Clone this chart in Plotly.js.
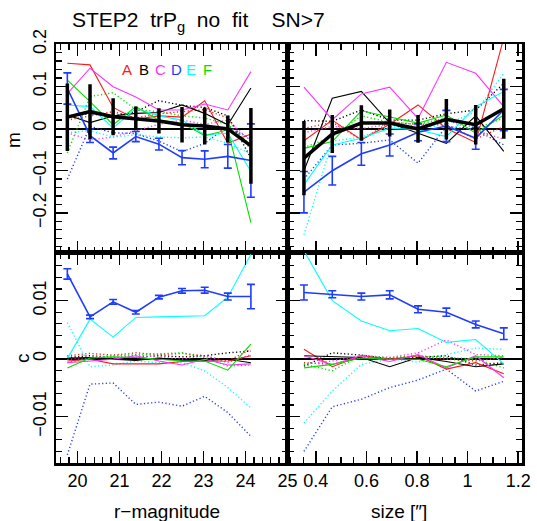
<!DOCTYPE html>
<html><head><meta charset="utf-8">
<script src="https://cdn.plot.ly/plotly-3.0.1.min.js"></script>
<style>html,body{margin:0;padding:0;background:#fff}#chart{width:537px;height:521px}</style>
</head><body><div id="chart"></div><script>
// ---------- bins ----------
const magBins  = [19.76, 20.30, 20.85, 21.39, 21.94, 22.49, 23.03, 23.58, 24.13];
const sizeBins = [0.353, 0.465, 0.580, 0.692, 0.804, 0.916, 1.032, 1.143];

// ---------- m vs r-magnitude ----------
const mMag_mean    = [0.027, 0.040, 0.028, 0.024, 0.018, 0.009, 0.006, -0.001, -0.041];
const mMag_meanErr = [0.080, 0.065, 0.044, 0.028, 0.030, 0.042, 0.044, 0.032, 0.090];
const mMag_A  = [0.155, 0.151, 0.050, 0.022, 0.030, 0.027, 0.066, -0.035, -0.013];
const mMag_B  = [0.032, 0.014, 0.030, 0.036, 0.038, 0.056, 0.036, 0.009, 0.096];
const mMag_C  = [0.083, 0.143, 0.099, 0.075, 0.044, 0.044, 0.058, 0.044, 0.135];
const mMag_D  = [0.095, -0.017, -0.058, -0.019, -0.037, -0.069, -0.073, -0.066, -0.076];
const mMag_DErr = [0.037, 0.016, 0.014, 0.012, 0.014, 0.017, 0.020, 0.028, 0.087];
const mMag_E  = [0.056, 0.052, 0.001, 0.048, 0.030, 0.020, -0.015, -0.011, -0.102];
const mMag_F  = [0.115, 0.064, 0.009, 0.052, 0.020, 0.013, -0.017, -0.003, -0.223];
const mMag_Ad = [0.020, 0.030, 0.040, 0.025, 0.035, 0.040, 0.045, 0.025, -0.050];
const mMag_Bd = [0.030, 0.035, 0.030, 0.040, 0.066, 0.055, 0.050, 0.030, -0.070];
const mMag_Cd = [-0.010, -0.027, -0.020, -0.005, 0.010, 0.020, 0.010, 0.020, -0.030];
const mMag_Dd = [-0.120, 0.005, -0.010, -0.012, -0.030, -0.055, -0.035, 0.005, -0.025];
const mMag_Ed = [-0.010, -0.005, -0.020, -0.015, -0.020, -0.022, -0.020, -0.035, -0.060];
const mMag_Fd = [-0.058, 0.076, 0.085, 0.045, 0.040, 0.030, 0.025, 0.010, -0.040];

// ---------- m vs size ----------
const mSize_mean    = [-0.070, -0.013, 0.013, 0.013, -0.001, 0.022, 0.009, 0.047];
const mSize_meanErr = [0.088, 0.045, 0.042, 0.032, 0.033, 0.048, 0.047, 0.071];
const mSize_A  = [-0.029, 0.020, -0.027, 0.010, 0.056, 0.000, -0.033, 0.215];
const mSize_B  = [-0.100, 0.072, 0.088, 0.013, -0.011, -0.035, 0.030, -0.054];
const mSize_C  = [0.098, 0.021, 0.082, 0.098, 0.024, 0.157, 0.131, 0.052];
const mSize_D  = [-0.151, -0.100, -0.060, -0.039, -0.009, 0.006, -0.023, 0.044];
const mSize_DErr = [0.049, 0.034, 0.027, 0.026, 0.020, 0.037, 0.026, 0.049];
const mSize_E  = [-0.133, -0.039, -0.023, 0.001, -0.003, -0.019, 0.052, 0.088];
const mSize_F  = [-0.047, -0.031, 0.042, 0.028, 0.013, 0.032, -0.011, 0.032];
const mSize_Ad = [0.000, 0.015, -0.027, 0.015, 0.010, 0.010, -0.025, 0.005];
const mSize_Bd = [0.019, 0.017, 0.044, 0.020, 0.020, 0.035, 0.044, 0.107];
const mSize_Cd = [-0.010, 0.005, 0.000, 0.010, 0.005, 0.020, -0.005, -0.025];
const mSize_Dd = [-0.120, -0.039, -0.035, -0.027, -0.082, 0.005, -0.003, -0.039];
const mSize_Ed = [-0.252, -0.030, -0.020, 0.005, 0.000, 0.010, 0.040, 0.131];
const mSize_Fd = [-0.045, -0.020, 0.030, 0.015, 0.010, 0.025, 0.000, 0.025];

// ---------- c vs r-magnitude ----------
const cMag_A  = [-0.0004, -0.0001, -0.0009, -0.0009, -0.0009, -0.0005, -0.0004, -0.0004, 0.0005];
const cMag_B  = [0.0001, 0.0002, -0.0001, -0.0003, 0.0001, -0.0003, -0.0003, -0.0001, -0.0007];
const cMag_C  = [-0.0007, -0.0004, -0.0001, 0.0005, -0.0004, -0.0011, -0.0001, -0.0011, -0.0009];
const cMag_D  = [0.0146, 0.0072, 0.0098, 0.0080, 0.0106, 0.0117, 0.0118, 0.0107, 0.0107];
const cMag_DErr = [0.0009, 0.0003, 0.0004, 0.0003, 0.0003, 0.0004, 0.0005, 0.0006, 0.0021];
const cMag_E  = [0.0000, 0.0068, 0.0037, 0.0071, 0.0072, 0.0073, 0.0074, 0.0106, 0.0180];
const cMag_F  = [-0.0016, 0.0001, 0.0003, 0.0002, -0.0001, -0.0004, -0.0004, -0.0020, 0.0025];
const cMag_Ad = [0.0005, 0.0009, 0.0006, 0.0010, 0.0007, 0.0009, 0.0005, -0.0004, 0.0016];
const cMag_Bd = [0.0002, 0.0005, 0.0002, 0.0002, 0.0005, 0.0003, 0.0005, 0.0010, 0.0013];
const cMag_Cd = [-0.0001, 0.0003, 0.0001, 0.0006, 0.0003, -0.0001, 0.0005, -0.0007, 0.0007];
const cMag_Dd = [-0.0166, -0.0044, -0.0042, -0.0079, -0.0075, -0.0082, -0.0065, -0.0093, -0.0134];
const cMag_Ed = [0.0062, -0.0014, -0.0011, -0.0004, -0.0007, -0.0007, -0.0021, -0.0050, -0.0085];
const cMag_Fd = [-0.0007, 0.0002, 0.0005, 0.0007, 0.0009, 0.0010, 0.0002, -0.0013, -0.0011];

// ---------- c vs size ----------
const cSize_A  = [0.0016, -0.0014, 0.0005, -0.0001, 0.0005, -0.0018, -0.0007, -0.0026];
const cSize_B  = [0.0005, 0.0003, 0.0002, -0.0014, 0.0002, -0.0005, -0.0014, -0.0009];
const cSize_C  = [0.0005, -0.0010, 0.0005, -0.0005, 0.0007, -0.0016, 0.0005, -0.0033];
const cSize_D  = [0.0114, 0.0111, 0.0107, 0.0110, 0.0085, 0.0080, 0.0059, 0.0043];
const cSize_DErr = [0.0013, 0.0006, 0.0006, 0.0007, 0.0006, 0.0007, 0.0006, 0.0010];
const cSize_E  = [0.0186, 0.0100, 0.0065, 0.0048, 0.0052, 0.0028, 0.0033, -0.0009];
const cSize_F  = [-0.0016, -0.0010, 0.0001, -0.0001, -0.0001, -0.0014, 0.0003, 0.0003];
const cSize_Ad = [-0.0007, -0.0010, 0.0002, 0.0001, 0.0005, -0.0001, -0.0004, 0.0002];
const cSize_Bd = [-0.0013, 0.0010, 0.0006, -0.0001, 0.0002, 0.0005, -0.0011, -0.0007];
const cSize_Cd = [-0.0010, -0.0004, 0.0005, 0.0002, 0.0010, 0.0032, 0.0007, 0.0005];
const cSize_Dd = [-0.0160, -0.0083, -0.0070, -0.0050, -0.0037, -0.0018, -0.0056, -0.0039];
const cSize_Ed = [-0.0111, -0.0056, -0.0010, -0.0001, -0.0006, 0.0007, 0.0018, 0.0016];
const cSize_Fd = [-0.0010, -0.0021, 0.0006, 0.0001, 0.0005, 0.0002, -0.0001, -0.0016];

const legendLetters = ['A', 'B', 'C', 'D', 'E', 'F'];
const COL = {A: '#ff1a1a', B: '#000000', C: '#ff33ff', D: '#1e3cff', E: '#00ffff', F: '#00e000'};
const FONT = '"Liberation Sans", Arial, sans-serif';
const DOT = '1.2px,2.4px';

function ln(x, y, xa, ya, color, dash, width) {
  return {x: x, y: y, xaxis: xa, yaxis: ya, mode: 'lines', type: 'scatter',
    line: {color: color, dash: dash, width: width}, hoverinfo: 'skip', showlegend: false};
}
function withErr(x, y, err, xa, ya, color, width, thick, cap) {
  const t = ln(x, y, xa, ya, color, 'solid', width);
  t.error_y = {type: 'data', array: err, visible: true, color: color, thickness: thick, width: cap};
  return t;
}

const traces = [];
function panel(x, xa, ya, s, mean, meanErr) {
  // dotted first
  traces.push(ln(x, s.Ad, xa, ya, COL.A, DOT, 1.4));
  traces.push(ln(x, s.Bd, xa, ya, COL.B, DOT, 1.4));
  traces.push(ln(x, s.Cd, xa, ya, COL.C, DOT, 1.4));
  traces.push(ln(x, s.Dd, xa, ya, COL.D, DOT, 1.4));
  traces.push(ln(x, s.Ed, xa, ya, COL.E, DOT, 1.4));
  traces.push(ln(x, s.Fd, xa, ya, COL.F, DOT, 1.4));
  traces.push(ln(x, s.A, xa, ya, COL.A, 'solid', 1.1));
  traces.push(ln(x, s.B, xa, ya, COL.B, 'solid', 1.1));
  traces.push(ln(x, s.C, xa, ya, COL.C, 'solid', 1.1));
  traces.push(ln(x, s.E, xa, ya, COL.E, 'solid', 1.1));
  traces.push(ln(x, s.F, xa, ya, COL.F, 'solid', 1.1));
  traces.push(withErr(x, s.D, s.DErr, xa, ya, COL.D, 1.6, 1.6, 4));
  if (mean) traces.push(withErr(x, mean, meanErr, xa, ya, '#000000', 3.5, 3.5, 0));
}
panel(magBins, 'x', 'y', {A: mMag_A, B: mMag_B, C: mMag_C, D: mMag_D, DErr: mMag_DErr, E: mMag_E, F: mMag_F,
  Ad: mMag_Ad, Bd: mMag_Bd, Cd: mMag_Cd, Dd: mMag_Dd, Ed: mMag_Ed, Fd: mMag_Fd}, mMag_mean, mMag_meanErr);
panel(sizeBins, 'x2', 'y2', {A: mSize_A, B: mSize_B, C: mSize_C, D: mSize_D, DErr: mSize_DErr, E: mSize_E, F: mSize_F,
  Ad: mSize_Ad, Bd: mSize_Bd, Cd: mSize_Cd, Dd: mSize_Dd, Ed: mSize_Ed, Fd: mSize_Fd}, mSize_mean, mSize_meanErr);
panel(magBins, 'x3', 'y3', {A: cMag_A, B: cMag_B, C: cMag_C, D: cMag_D, DErr: cMag_DErr, E: cMag_E, F: cMag_F,
  Ad: cMag_Ad, Bd: cMag_Bd, Cd: cMag_Cd, Dd: cMag_Dd, Ed: cMag_Ed, Fd: cMag_Fd}, null, null);
panel(sizeBins, 'x4', 'y4', {A: cSize_A, B: cSize_B, C: cSize_C, D: cSize_D, DErr: cSize_DErr, E: cSize_E, F: cSize_F,
  Ad: cSize_Ad, Bd: cSize_Bd, Cd: cSize_Cd, Dd: cSize_Dd, Ed: cSize_Ed, Fd: cSize_Fd}, null, null);

const L = 56, R = 15, T = 44, B = 58, W = 537, H = 521;
const pw = W - L - R, ph = H - T - B;
const dX = (287.5 - L) / pw;
const dY = 1 - (252.5 - T) / ph;
const px = v => (v - L) / pw;
const py = v => (H - B - v) / ph;

function ax(extra) {
  return Object.assign({
    showline: true, linewidth: 2.5, linecolor: '#000', mirror: 'ticks',
    ticks: 'inside', ticklen: 12, tickwidth: 1.5, tickcolor: '#000',
    showgrid: false, zeroline: false, tick0: 0,
    tickfont: {family: FONT, size: 18, color: '#000'}
  }, extra);
}
const magRange = [19.49, 25.001], sizeRange = [0.288, 1.215];
const mRange = [-0.294, 0.2005], cRange = [-0.018, 0.0183];
const minorMag = {ticks: 'inside', ticklen: 6, tickwidth: 1.3, tickcolor: '#000', dtick: 0.2, tick0: 0, showgrid: false};
const minorSize = Object.assign({}, minorMag, {dtick: 0.05});
const minorM = Object.assign({}, minorMag, {dtick: 0.02});
const minorC = Object.assign({}, minorMag, {dtick: 0.002});
const zl = {zeroline: true, zerolinecolor: '#000', zerolinewidth: 2};

const annotations = [
  {text: 'm', x: px(13), y: py(140), textangle: -90},
  {text: 'c', x: px(22), y: py(358), textangle: -90},
  {text: 'r\u2212magnitude', x: px(167), y: py(511)},
  {text: 'size [\u2033]', x: px(399), y: py(511)}
].map(a => Object.assign({xref: 'paper', yref: 'paper', showarrow: false, xanchor: 'center', yanchor: 'middle',
  font: {family: FONT, size: 19, color: '#000'}}, a));
const legendX = [126.5, 143.5, 160, 176, 190.5, 207];
legendLetters.forEach((l, i) => annotations.push({text: l, xref: 'paper', yref: 'paper', x: px(legendX[i]), y: py(70),
  showarrow: false, xanchor: 'center', yanchor: 'middle', font: {family: FONT, size: 15, color: COL[l]}}));

const layout = {
  width: W, height: H, margin: {l: L, r: R, t: T, b: B},
  paper_bgcolor: '#fff', plot_bgcolor: '#fff', showlegend: false,
  title: {text: 'STEP2\u00a0\u00a0trP<sub>g</sub>\u00a0\u00a0no\u00a0\u00a0fit\u00a0\u00a0\u00a0\u00a0SN>7',
    x: 72 / W, xanchor: 'left', y: 1 - 20 / H, yanchor: 'middle', font: {family: FONT, size: 21, color: '#000'}},
  xaxis:  ax({domain: [0, dX], anchor: 'y', range: magRange, dtick: 1, minor: minorMag, showticklabels: false}),
  xaxis2: ax({domain: [dX, 1], anchor: 'y2', range: sizeRange, dtick: 0.2, minor: minorSize, showticklabels: false}),
  xaxis3: ax({domain: [0, dX], anchor: 'y3', range: magRange, dtick: 1, minor: minorMag}),
  xaxis4: ax({domain: [dX, 1], anchor: 'y4', range: sizeRange, dtick: 0.2, minor: minorSize}),
  yaxis:  ax(Object.assign({domain: [dY, 1], anchor: 'x', range: mRange, dtick: 0.1, minor: minorM, tickangle: -90}, zl)),
  yaxis2: ax(Object.assign({domain: [dY, 1], anchor: 'x2', range: mRange, dtick: 0.1, minor: minorM, showticklabels: false}, zl)),
  yaxis3: ax(Object.assign({domain: [0, dY], anchor: 'x3', range: cRange, dtick: 0.01, minor: minorC, tickangle: -90}, zl)),
  yaxis4: ax(Object.assign({domain: [0, dY], anchor: 'x4', range: cRange, dtick: 0.01, minor: minorC, showticklabels: false}, zl)),
  annotations: annotations
};
Plotly.newPlot('chart', traces, layout, {staticPlot: true, displayModeBar: false});
</script></body></html>
